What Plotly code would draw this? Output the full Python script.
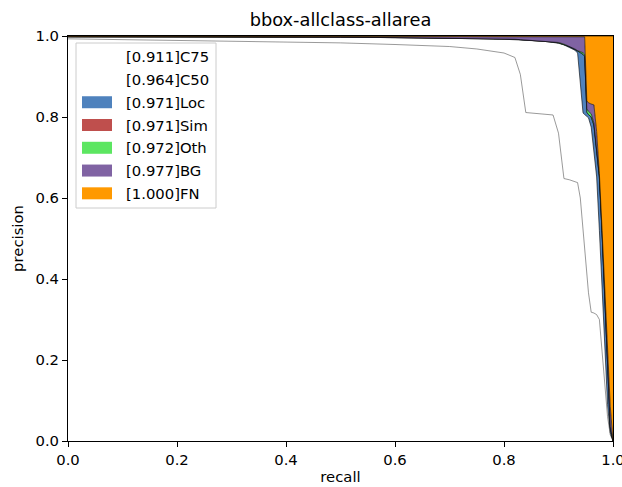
import plotly.graph_objects as go

# ---------------- data ----------------
recall = [0.0, 0.05, 0.1, 0.2, 0.3, 0.4, 0.5, 0.6, 0.7, 0.75,
          0.8, 0.82, 0.83, 0.84, 0.86, 0.88, 0.89, 0.9, 0.91, 0.92,
          0.93, 0.935, 0.94, 0.945, 0.948, 0.952, 0.955, 0.96, 0.965, 0.97,
          0.975, 0.98, 0.985, 0.99, 0.995, 1.0]

prec_C75 = [0.993, 0.992, 0.991, 0.989, 0.987, 0.985, 0.983, 0.979, 0.974, 0.968,
            0.958, 0.947, 0.905, 0.811, 0.809, 0.806, 0.805, 0.760, 0.648, 0.645,
            0.641, 0.638, 0.600, 0.520, 0.475, 0.410, 0.366, 0.318, 0.316, 0.312,
            0.300, 0.220, 0.140, 0.060, 0.015, 0.0]

prec_C50 = [0.998, 0.998, 0.998, 0.998, 0.998, 0.997, 0.997, 0.996, 0.995, 0.994,
            0.992, 0.991, 0.990, 0.989, 0.988, 0.986, 0.984, 0.982, 0.978, 0.972,
            0.965, 0.958, 0.890, 0.810, 0.806, 0.802, 0.798, 0.775, 0.713, 0.652,
            0.520, 0.380, 0.235, 0.090, 0.020, 0.0]

prec_Loc = [0.998, 0.998, 0.998, 0.998, 0.998, 0.997, 0.997, 0.996, 0.995, 0.994,
            0.993, 0.992, 0.991, 0.990, 0.989, 0.987, 0.985, 0.983, 0.979, 0.974,
            0.967, 0.963, 0.958, 0.955, 0.950, 0.812, 0.806, 0.800, 0.780, 0.720,
            0.652, 0.512, 0.352, 0.192, 0.032, 0.0]

prec_Sim = [0.998, 0.998, 0.998, 0.998, 0.998, 0.997, 0.997, 0.996, 0.995, 0.994,
            0.993, 0.992, 0.991, 0.990, 0.989, 0.987, 0.985, 0.983, 0.979, 0.974,
            0.967, 0.963, 0.958, 0.955, 0.950, 0.812, 0.806, 0.800, 0.780, 0.720,
            0.652, 0.512, 0.352, 0.192, 0.032, 0.0]

prec_Oth = [0.998, 0.998, 0.998, 0.998, 0.998, 0.997, 0.997, 0.996, 0.995, 0.994,
            0.993, 0.992, 0.991, 0.990, 0.989, 0.987, 0.986, 0.984, 0.980, 0.975,
            0.968, 0.964, 0.961, 0.959, 0.955, 0.820, 0.814, 0.808, 0.785, 0.724,
            0.655, 0.515, 0.355, 0.195, 0.035, 0.0]

prec_BG = [0.999, 0.999, 0.999, 0.999, 0.999, 0.999, 0.999, 0.999, 0.999, 0.999,
           0.999, 0.999, 0.999, 0.999, 0.999, 0.999, 0.999, 0.999, 0.999, 0.999,
           0.999, 0.999, 0.999, 0.999, 0.998, 0.840, 0.835, 0.832, 0.830, 0.764,
           0.660, 0.520, 0.373, 0.230, 0.086, 0.0]

prec_FN = [1.0] * len(recall)

types = ["C75", "C50", "Loc", "Sim", "Oth", "BG", "FN"]
aps = [0.911, 0.964, 0.971, 0.971, 0.972, 0.977, 1.000]
fill_colors = ["rgb(255,255,255)", "rgb(255,255,255)", "rgb(79,130,189)",
               "rgb(191,79,77)", "rgb(92,230,97)", "rgb(128,99,163)",
               "rgb(255,153,0)"]
series = [prec_C75, prec_C50, prec_Loc, prec_Sim, prec_Oth, prec_BG, prec_FN]
labels = ["[%.3f]%s" % (a, t) for a, t in zip(aps, types)]

title_text = "bbox-allclass-allarea"
x_ticks = [0.0, 0.2, 0.4, 0.6, 0.8, 1.0]
y_ticks = [0.0, 0.2, 0.4, 0.6, 0.8, 1.0]

# ---------------- figure ----------------
FONT = "DejaVu Sans"
W, H = 622, 487
ML, MR, MT, MB = 68, 9, 36, 46
PH = H - MT - MB

fig = go.Figure()
for i, (ys, col, lab) in enumerate(zip(series, fill_colors, labels)):
    fig.add_trace(go.Scatter(
        x=recall, y=ys, mode="lines",
        line=dict(color="black" if i > 0 else "#555555", width=0.6),
        fill="tozeroy" if i == 0 else "tonexty",
        fillcolor=col, name=lab, showlegend=False, hoverinfo="skip"))

# legend drawn like matplotlib's (frame, patches, labels)
shapes = []
annotations = []
def py(px):  # pixel row -> paper y
    return (H - MB - px) / PH
def pxx(px):  # pixel column -> paper x
    return (px - ML) / (W - ML - MR)

shapes.append(dict(type="rect", xref="paper", yref="paper",
                   x0=pxx(76), x1=pxx(216), y0=py(208), y1=py(43),
                   fillcolor="rgba(255,255,255,0.85)",
                   line=dict(color="#cccccc", width=1), layer="above"))
for i, (col, lab) in enumerate(zip(fill_colors, labels)):
    cy = 56.7 + 22.77 * i
    shapes.append(dict(type="rect", xref="paper", yref="paper",
                       x0=pxx(82), x1=pxx(112), y0=py(cy + 6), y1=py(cy - 6),
                       fillcolor=col, line=dict(width=0), layer="above"))
    annotations.append(dict(xref="paper", yref="paper", x=pxx(124), y=py(cy),
                            xanchor="left", yanchor="middle", showarrow=False,
                            text=lab, font=dict(family=FONT, size=14.8, color="black")))

axis_common = dict(range=[0, 1], showline=True, mirror=True, linecolor="black",
                   linewidth=1, ticks="outside", ticklen=5, tickwidth=1,
                   tickcolor="black", showgrid=False, zeroline=False,
                   tickformat=".1f", automargin=False, ticklabeloverflow="allow",
                   tickfont=dict(family=FONT, size=14.8, color="black"))

fig.update_layout(
    width=W, height=H,
    margin=dict(l=ML, r=MR, t=MT, b=MB, autoexpand=False),
    paper_bgcolor="white", plot_bgcolor="white",
    title=dict(text=title_text, x=0.5, xref="paper", xanchor="center",
               y=1 - 19.5 / H, yref="container", yanchor="middle",
               font=dict(family=FONT, size=17.8, color="black")),
    xaxis=dict(axis_common, tickvals=x_ticks,
               title=dict(text="recall", standoff=4,
                          font=dict(family=FONT, size=14.8, color="black"))),
    yaxis=dict(axis_common, tickvals=y_ticks,
               title=dict(text="precision", standoff=8,
                          font=dict(family=FONT, size=14.8, color="black"))),
    shapes=shapes, annotations=annotations,
    showlegend=False,
)

fig.write_html("out.html",
               config={"displayModeBar": False, "staticPlot": True},
               post_script="document.body.style.margin='0px';"
                           "document.body.style.overflow='hidden';")
